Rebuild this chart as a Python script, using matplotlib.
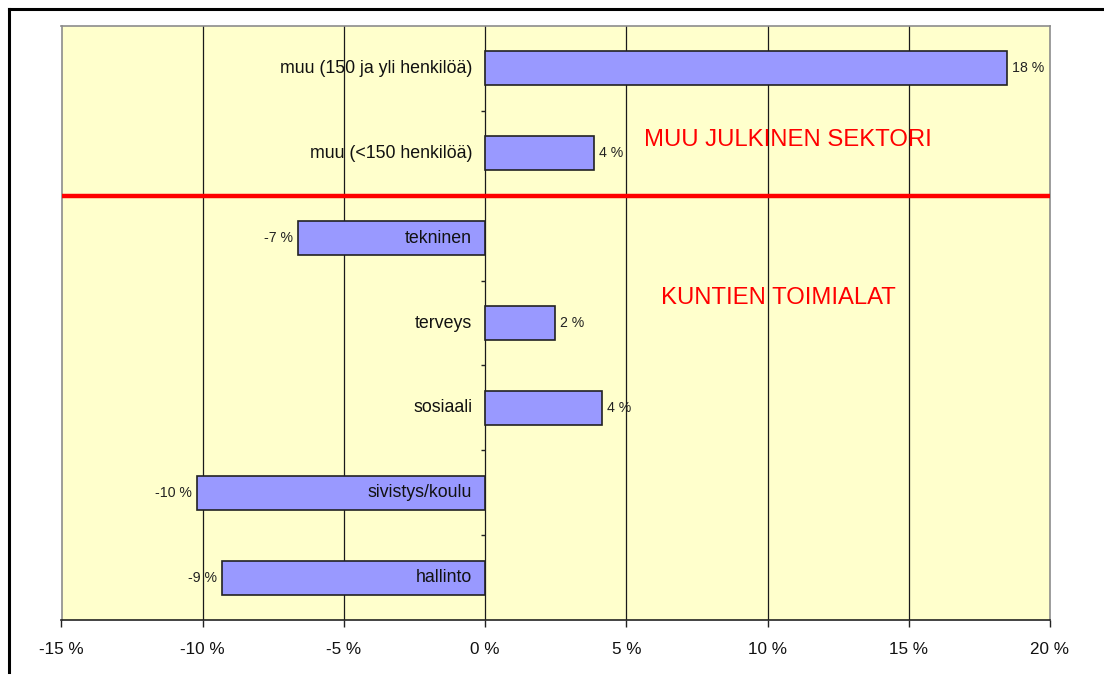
import matplotlib
matplotlib.use("Agg")
import matplotlib.pyplot as plt
from matplotlib.lines import Line2D

plt.rcParams['font.family'] = ['Liberation Sans', 'DejaVu Sans']

categories = ['muu (150 ja yli henkilöä)', 'muu (<150 henkilöä)', 'tekninen',
              'terveys', 'sosiaali', 'sivistys/koulu', 'hallinto']
values = [18.49, 3.85, -6.63, 2.47, 4.13, -10.22, -9.33]
xticks = [-15, -10, -5, 0, 5, 10, 15, 20]
xtick_labels = ['-15 %', '-10 %', '-5 %', '0 %', '5 %', '10 %', '15 %', '20 %']
group_labels = ['MUU JULKINEN SEKTORI', 'KUNTIEN TOIMIALAT']

fig = plt.figure(figsize=(11.04, 6.75), dpi=100)
ax = fig.add_axes([61.5/1104, 1-620/675, (1050-61.5)/1104, (620-26)/675])
ax.set_facecolor('#FFFFCC')

ypos = list(range(len(categories)))
ax.set_xlim(-15, 20)
ax.set_ylim(len(categories)-0.5, -0.5)

for x in xticks[1:-1]:
    ax.axvline(x, color='#1a1a1a', lw=0.9, zorder=1)

ax.barh(ypos, values, height=0.4, color='#9999FF', edgecolor='#222222',
        linewidth=1.2, zorder=3)

px = 35/988.0  # data units per pixel
for y, v, c in zip(ypos, values, categories):
    ax.text(-13*px, y, c, ha='right', va='center', fontsize=12.8,
            color='#111111', zorder=4)
    lab = f"{round(v):d} %"
    if v >= 0:
        ax.text(v + 5*px, y, lab, ha='left', va='center', fontsize=10.2,
                color='#222222', zorder=4)
    else:
        ax.text(v - 5*px, y, lab, ha='right', va='center', fontsize=10.2,
                color='#222222', zorder=4)

# separator line
ax.axhline(1.5, color='#FF0000', lw=3.2, zorder=5)

ax.text(10.72, 0.845, group_labels[0], color='#FF0000', fontsize=17.2,
        ha='center', va='center', zorder=6)
ax.text(10.37, 2.705, group_labels[1], color='#FF0000', fontsize=17.2,
        ha='center', va='center', zorder=6)

# y axis ticks at zero line
for b in [k + 0.5 for k in range(len(categories)-1)]:
    ax.plot([-4*px, 0], [b, b], color='#222222', lw=1, zorder=2,
            solid_capstyle='butt')

ax.set_yticks([])
ax.set_xticks(xticks)
ax.set_xticklabels(xtick_labels, fontsize=12.3, color='#111111')
ax.tick_params(axis='x', direction='out', length=5, width=1, color='#222222', pad=11)

for s in ['top', 'left', 'right']:
    ax.spines[s].set_color('#8c8c8c')
    ax.spines[s].set_linewidth(1.2)
ax.spines['bottom'].set_color('#222222')
ax.spines['bottom'].set_linewidth(1.2)
ax.spines['bottom'].set_zorder(6)

# outer figure border (partially cut off at right/bottom)
fig.add_artist(Line2D([9/1104, 1.0], [1-9/675, 1-9/675], color='black', lw=2.2,
                      transform=fig.transFigure))
fig.add_artist(Line2D([9/1104, 9/1104], [1-9/675, 1-672/675], color='black', lw=2.2,
                      transform=fig.transFigure))

fig.savefig('out.png', dpi=100, facecolor='white')
